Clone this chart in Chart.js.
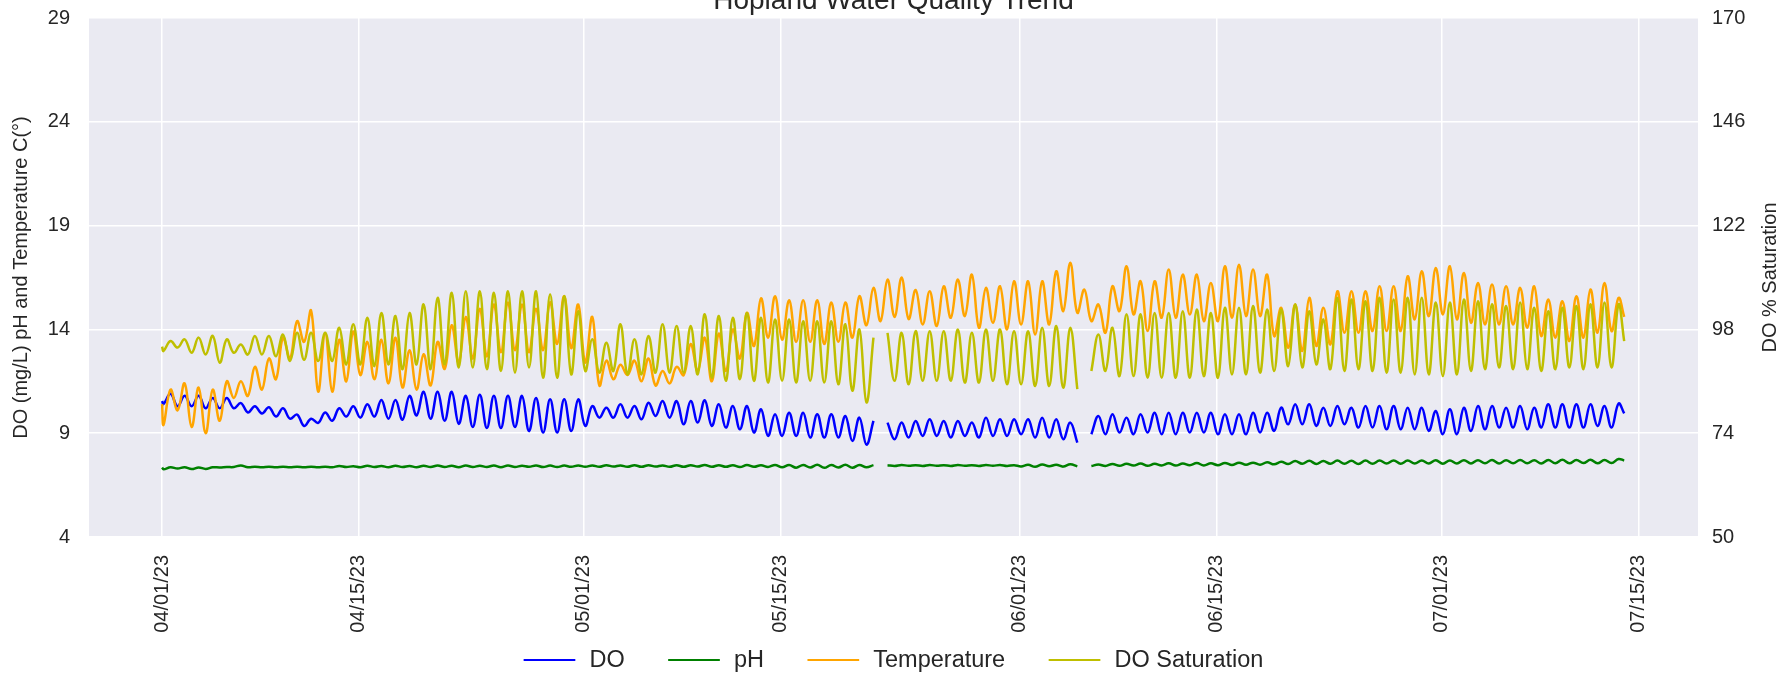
<!DOCTYPE html>
<html>
<head>
<meta charset="utf-8">
<title>Hopland Water Quality Trend</title>
<script src="https://cdn.jsdelivr.net/npm/chart.js@4.4.1/dist/chart.umd.min.js"></script>
<style>
  html, body { margin: 0; padding: 0; background: #ffffff; }
  #wrap { width: 1785px; height: 676px; position: relative; }
</style>
</head>
<body>
<div id="wrap"><canvas id="wqChart"></canvas></div>
<script>
// Time axis: days counted from 04/01/23 00:00
const tickDays = [0, 14, 30, 44, 61, 75, 91, 105];
const tickLabels = ['04/01/23', '04/15/23', '05/01/23', '05/15/23', '06/01/23', '06/15/23', '07/01/23', '07/15/23'];

const chartTitle = 'Hopland Water Quality Trend';
const seriesNames = ['DO', 'pH', 'Temperature', 'DO Saturation'];
const leftAxisTitle = 'DO (mg/L) pH and Temperature C(°)';
const rightAxisTitle = 'DO % Saturation';

// Daily low (early morning) and high (afternoon) readings, one value per day.
// null = sensor gap
const doLow = [
  10.4, 10.3, 10.3, 10.2, 10.2, 10.2, 10.0, 9.95, 9.8, 9.7,
  9.35, 9.5, 9.6, 9.8, 9.75, 9.8, 9.7, 9.65, 9.85, 9.7,
  9.6, 9.45, 9.3, 9.25, 9.25, 9.3, 9.1, 9.03, 9.03, 9.11,
  9.35, 9.75, 9.75, 9.75, 9.67, 9.83, 9.75, 9.43, 9.51, 9.35,
  9.27, 9.19, 9.03, 8.87, 8.87, 8.87, 8.79, 8.79, 8.79, 8.63,
  8.45, null, 8.71, 8.79, 8.87, 8.87, 8.79, 8.87, 8.79, 8.87,
  8.87, 8.95, 8.79, 8.79, 8.71, 8.55, 8.95, 8.95, 9.03, 8.95,
  9.03, 8.95, 8.95, 9.03, 9.03, 8.95, 8.95, 8.95, 9.03, 9.11,
  9.43, 9.43, 9.35, 9.35, 9.43, 9.27, 9.27, 9.19, 9.19, 9.19,
  9.11, 8.95, 8.95, 9.11, 9.19, 9.27, 9.27, 9.19, 9.27, 9.27,
  9.27, 9.27, 9.35, 9.27
];
const doHigh = [
  10.9, 10.8, 10.8, 10.7, 10.7, 10.45, 10.3, 10.25, 10.2, 9.9,
  9.7, 10.0, 10.2, 10.3, 10.4, 10.6, 10.6, 10.8, 11.0, 11.0,
  11.0, 10.8, 10.85, 10.8, 10.8, 10.8, 10.7, 10.63, 10.63, 10.63,
  10.31, 10.23, 10.39, 10.31, 10.47, 10.55, 10.55, 10.55, 10.59, 10.39,
  10.31, 10.31, 10.15, 9.91, 9.99, 9.99, 9.91, 9.91, 9.83, 9.75,
  9.59, 9.51, 9.51, 9.59, 9.67, 9.59, 9.59, 9.51, 9.75, 9.67,
  9.67, 9.67, 9.75, 9.67, 9.51, null, 9.83, 9.91, 9.75, 9.91,
  9.99, 9.99, 9.99, 9.99, 9.99, 9.91, 9.91, 9.99, 9.99, 10.23,
  10.39, 10.39, 10.23, 10.31, 10.23, 10.31, 10.31, 10.31, 10.23, 10.23,
  10.07, 10.15, 10.23, 10.31, 10.31, 10.23, 10.31, 10.23, 10.39, 10.39,
  10.39, 10.39, 10.31, 10.43
];

const phLow = [
  7.26, 7.30, 7.27, 7.28, 7.35, 7.37, 7.36, 7.36, 7.36, 7.36,
  7.36, 7.36, 7.36, 7.37, 7.36, 7.37, 7.36, 7.37, 7.36, 7.37,
  7.37, 7.36, 7.37, 7.37, 7.36, 7.37, 7.38, 7.37, 7.37, 7.38,
  7.38, 7.38, 7.39, 7.38, 7.38, 7.39, 7.38, 7.38, 7.39, 7.38,
  7.38, 7.37, 7.38, 7.37, 7.36, 7.34, 7.35, 7.33, 7.35, 7.34,
  7.36, null, 7.42, 7.43, 7.42, 7.43, 7.42, 7.43, 7.42, 7.43,
  7.42, 7.40, 7.38, 7.41, 7.39, 7.40, 7.42, 7.42, 7.43, 7.44,
  7.43, 7.45, 7.44, 7.46, 7.45, 7.46, 7.47, 7.48, 7.48, 7.50,
  7.52, 7.53, 7.52, 7.53, 7.53, 7.52, 7.53, 7.54, 7.53, 7.54,
  7.54, 7.53, 7.54, 7.54, 7.55, 7.54, 7.55, 7.55, 7.54, 7.55,
  7.55, 7.56, 7.55, 7.56
];
const phHigh = [
  7.36, 7.36, 7.35, 7.36, 7.37, 7.45, 7.38, 7.38, 7.38, 7.38,
  7.38, 7.38, 7.42, 7.41, 7.43, 7.42, 7.43, 7.42, 7.43, 7.44,
  7.43, 7.44, 7.43, 7.44, 7.44, 7.43, 7.45, 7.44, 7.44, 7.45,
  7.45, 7.46, 7.45, 7.46, 7.46, 7.45, 7.46, 7.46, 7.47, 7.46,
  7.46, 7.47, 7.46, 7.47, 7.47, 7.47, 7.48, 7.47, 7.48, 7.47,
  7.46, 7.46, 7.47, 7.46, 7.47, 7.46, 7.47, 7.46, 7.47, 7.47,
  7.46, 7.48, 7.49, 7.48, 7.50, null, 7.49, 7.52, 7.53, 7.54,
  7.53, 7.55, 7.54, 7.56, 7.55, 7.57, 7.58, 7.58, 7.60, 7.62,
  7.66, 7.67, 7.66, 7.68, 7.67, 7.68, 7.68, 7.69, 7.68, 7.69,
  7.70, 7.69, 7.70, 7.70, 7.71, 7.70, 7.71, 7.70, 7.71, 7.72,
  7.71, 7.72, 7.71, 7.76
];

const tempLow = [
  9.4, 10.1, 9.3, 9.0, 9.6, 10.7, 10.8, 11.1, 11.6, 12.6,
  13.4, 11.0, 11.0, 11.5, 11.8, 11.6, 11.4, 11.2, 11.1, 11.3,
  12.1, 12.4, 12.6, 12.7, 12.9, 13.0, 12.9, 13.0, 13.3, 13.1,
  12.4, 11.3, 11.6, 11.8, 11.5, 11.3, 11.4, 11.8, 12.0, 11.5,
  12.0, 12.6, 13.2, 13.6, 13.5, 13.4, 13.4, 13.3, 13.4, 13.6,
  14.2, 14.4, 14.6, 14.5, 14.24, 14.16, 14.56, 14.64, 14.08, 14.32,
  14.0, 14.24, 13.76, 14.24, 14.88, 14.8, 14.4, 13.84, 14.88, 14.72,
  13.92, 14.56, 14.56, 14.72, 14.4, 14.4, 14.56, 14.64, 14.64, 13.68,
  13.12, 12.96, 13.2, 13.28, 13.84, 13.84, 13.92, 13.92, 13.92, 14.48,
  14.64, 14.72, 14.48, 14.32, 14.24, 14.24, 14.24, 14.08, 13.68, 13.6,
  13.44, 13.6, 13.84, 13.92
];
const tempHigh = [
  11.1, 11.4, 11.2, 11.1, 11.5, 11.5, 12.2, 12.6, 13.6, 14.4,
  14.9, 13.8, 13.5, 13.9, 13.4, 13.5, 13.6, 13.0, 12.8, 13.4,
  14.2, 14.6, 15.0, 15.2, 15.3, 15.2, 15.0, 15.3, 15.6, 15.2,
  14.6, 12.5, 12.3, 12.5, 12.6, 12.0, 12.2, 13.3, 13.6, 13.8,
  14.0, 14.8, 15.5, 15.6, 15.4, 15.4, 15.4, 15.3, 15.3, 15.6,
  16.0, 16.4, 16.5, 15.9, 15.84, 16.08, 16.4, 16.64, 16.0, 16.08,
  16.32, 16.32, 16.32, 16.8, 17.21, 15.92, 15.2, 16.08, 17.04, 16.32,
  16.32, 16.88, 16.64, 16.64, 16.24, 17.04, 17.12, 16.88, 16.64, 15.04,
  15.2, 15.52, 15.04, 15.84, 15.84, 15.84, 16.08, 16.08, 16.56, 16.8,
  16.96, 17.04, 16.72, 16.24, 16.16, 16.08, 16.0, 16.08, 15.44, 15.36,
  15.6, 15.92, 16.24, 15.52
];

const satLow = [
  93.0, 93.8, 92.6, 92.2, 90.3, 92.6, 92.2, 92.2, 91.8, 90.7,
  91.0, 90.7, 90.7, 89.9, 89.9, 89.5, 89.9, 88.8, 89.9, 88.8,
  89.9, 89.2, 89.2, 88.8, 88.4, 88.0, 89.2, 86.8, 86.8, 87.6,
  88.4, 88.0, 88.4, 87.6, 87.6, 88.0, 88.0, 88.0, 87.6, 86.8,
  86.1, 86.5, 86.1, 85.7, 86.1, 85.7, 86.1, 85.7, 85.3, 83.8,
  81.1, null, 86.1, 85.3, 86.1, 86.1, 86.1, 85.7, 85.7, 86.1,
  85.3, 85.3, 84.9, 84.9, 84.5, 84.2, 88.4, 88.4, 87.2, 87.2,
  86.8, 86.8, 86.8, 86.8, 87.2, 86.8, 87.6, 87.6, 88.0, 88.4,
  89.5, 89.2, 89.9, 88.8, 88.4, 88.8, 88.4, 88.0, 88.0, 87.6,
  87.6, 87.2, 87.6, 88.4, 88.8, 89.2, 88.8, 88.8, 88.4, 88.8,
  89.2, 88.8, 89.2, 89.2
];
const satHigh = [
  95.3, 95.7, 96.1, 96.5, 95.7, 94.5, 96.5, 96.5, 96.8, 97.2,
  97.2, 97.2, 98.4, 99.2, 100.7, 101.8, 101.1, 101.8, 103.8, 105.3,
  106.5, 106.8, 106.8, 106.5, 106.8, 106.8, 106.8, 106.1, 105.7, 102.2,
  95.7, 94.9, 99.2, 95.7, 96.5, 99.2, 98.8, 98.8, 101.5, 101.1,
  100.7, 101.8, 100.7, 100.3, 100.3, 99.9, 99.9, 99.9, 99.2, 98.0,
  96.1, 97.2, 97.2, 97.6, 97.6, 97.6, 98.0, 97.2, 98.0, 98.0,
  97.6, 97.6, 98.4, 98.8, 98.4, null, 96.8, 98.4, 101.5, 101.5,
  101.8, 101.8, 102.2, 102.6, 101.8, 103.0, 103.0, 103.4, 102.6, 102.6,
  103.8, 102.2, 100.3, 105.3, 104.9, 104.5, 105.3, 104.9, 105.3, 105.3,
  104.2, 104.2, 104.9, 104.5, 103.8, 103.4, 104.2, 103.0, 102.2, 103.0,
  103.4, 103.8, 104.2, 103.8
];

// first reading (04/01 00:00) and last reading (07/14 00:00): DO, pH, Temperature, DO Saturation
const firstReadings = [10.55, 7.35, 10.4, 94.0];
const lastReadings = [9.95, 7.68, 14.6, 95.3];

// low reading around 2am, high reading around 2pm
function buildSeries(first, low, high, last) {
  const pts = [{ x: 0, y: first }];
  for (let d = 0; d < low.length; d++) {
    pts.push({ x: d + 0.1, y: low[d] });
    pts.push({ x: d + 0.6, y: high[d] });
  }
  pts.push({ x: low.length, y: last });
  return pts;
}

const fontFamily = '"Liberation Sans", Arial, Helvetica, sans-serif';
const textColor = '#262626';
Chart.defaults.font.family = fontFamily;
Chart.defaults.color = textColor;

// grey seaborn-like plot background
const plotBackground = {
  id: 'plotBackground',
  beforeDraw(chart) {
    const { ctx, chartArea: a } = chart;
    ctx.save();
    ctx.fillStyle = '#eaeaf2';
    ctx.fillRect(a.left, a.top, a.right - a.left, a.bottom - a.top);
    ctx.restore();
  }
};

// title (partly above the top edge), right axis title read bottom-to-top, and legend row
const extraText = {
  id: 'extraText',
  afterDraw(chart, args, opts) {
    const { ctx, chartArea: a } = chart;
    const midX = (a.left + a.right) / 2;
    ctx.save();
    ctx.fillStyle = textColor;

    ctx.font = opts.titleSize + 'px ' + fontFamily;
    ctx.textAlign = 'center';
    ctx.textBaseline = 'alphabetic';
    ctx.fillText(chartTitle, midX, opts.titleBaseline);

    ctx.save();
    ctx.translate(chart.width - opts.rightTitleInset, (a.top + a.bottom) / 2);
    ctx.rotate(-Math.PI / 2);
    ctx.font = opts.axisTitleSize + 'px ' + fontFamily;
    ctx.textBaseline = 'middle';
    ctx.fillText(rightAxisTitle, 0, 0);
    ctx.restore();

    // legend row: handle, text pad and column gap in em
    const s = opts.legendSize;
    const handle = 2.2 * s, pad = 0.6 * s, gap = 1.85 * s;
    ctx.font = s + 'px ' + fontFamily;
    const items = chart.data.datasets.map(ds => ({
      label: ds.label, color: ds.borderColor, w: ctx.measureText(ds.label).width
    }));
    const total = items.reduce((sum, it) => sum + handle + pad + it.w, 0) + gap * (items.length - 1);
    let x = midX - total / 2;
    const y = opts.legendY;
    ctx.textAlign = 'left';
    ctx.textBaseline = 'middle';
    items.forEach(it => {
      ctx.strokeStyle = it.color;
      ctx.lineWidth = 2;
      ctx.beginPath();
      ctx.moveTo(x, y);
      ctx.lineTo(x + handle, y);
      ctx.stroke();
      x += handle + pad;
      ctx.fillStyle = textColor;
      ctx.fillText(it.label, x, y + 1);
      x += it.w + gap;
    });
    ctx.restore();
  }
};

function lineSet(label, color, data, axis, order) {
  return {
    label: label,
    data: data,
    borderColor: color,
    backgroundColor: color,
    borderWidth: 2.5,
    pointRadius: 0,
    tension: 0.4,
    spanGaps: false,
    yAxisID: axis,
    order: order
  };
}

// y tick labels may stick out above the plot; keep the plot box where it is
function noEndPadding(scale) {
  scale.paddingTop = 0;
  scale.paddingBottom = 0;
}

const ctx = document.getElementById('wqChart').getContext('2d');
new Chart(ctx, {
  type: 'line',
  data: {
    datasets: [
      lineSet(seriesNames[0], '#0000ff', buildSeries(firstReadings[0], doLow, doHigh, lastReadings[0]), 'y', 3),
      lineSet(seriesNames[1], '#008000', buildSeries(firstReadings[1], phLow, phHigh, lastReadings[1]), 'y', 2),
      lineSet(seriesNames[2], '#ffa500', buildSeries(firstReadings[2], tempLow, tempHigh, lastReadings[2]), 'y', 1),
      lineSet(seriesNames[3], '#bfbf00', buildSeries(firstReadings[3], satLow, satHigh, lastReadings[3]), 'y2', 0)
    ]
  },
  options: {
    responsive: true,
    maintainAspectRatio: false,
    animation: false,
    layout: { padding: { top: 18, left: 0, right: 0, bottom: 0 } },
    plugins: {
      title: { display: false },
      tooltip: { enabled: false },
      legend: { display: false },
      extraText: {
        titleSize: 28,
        titleBaseline: 9,
        axisTitleSize: 20,
        rightTitleInset: 15,
        legendSize: 23.5,
        legendY: 660
      }
    },
    scales: {
      x: {
        type: 'linear',
        min: -5.2,
        max: 109.25,
        afterBuildTicks: scale => { scale.ticks = tickDays.map(v => ({ value: v })); },
        afterFit: scale => { scale.height = 139; },
        ticks: {
          autoSkip: false,
          minRotation: 90,
          maxRotation: 90,
          padding: 18,
          color: textColor,
          font: { size: 20 },
          callback: (value, index) => tickLabels[index]
        },
        grid: { color: '#ffffff', lineWidth: 1.5, drawTicks: false },
        border: { display: false }
      },
      y: {
        position: 'left',
        min: 4,
        max: 29,
        afterFit: scale => { scale.width = 89; noEndPadding(scale); },
        ticks: { stepSize: 5, padding: 19, color: textColor, font: { size: 20 } },
        title: {
          display: true,
          text: leftAxisTitle,
          color: textColor,
          font: { size: 20 },
          padding: { top: 9, bottom: 0 }
        },
        grid: { color: '#ffffff', lineWidth: 1.5, drawTicks: false },
        border: { display: false }
      },
      y2: {
        position: 'right',
        min: 50,
        max: 170,
        afterFit: scale => { scale.width = 87; noEndPadding(scale); },
        ticks: { stepSize: 24, padding: 14, color: textColor, font: { size: 20 } },
        title: { display: false },
        grid: { display: false, drawTicks: false },
        border: { display: false }
      }
    }
  },
  plugins: [plotBackground, extraText]
});
</script>
</body>
</html>
